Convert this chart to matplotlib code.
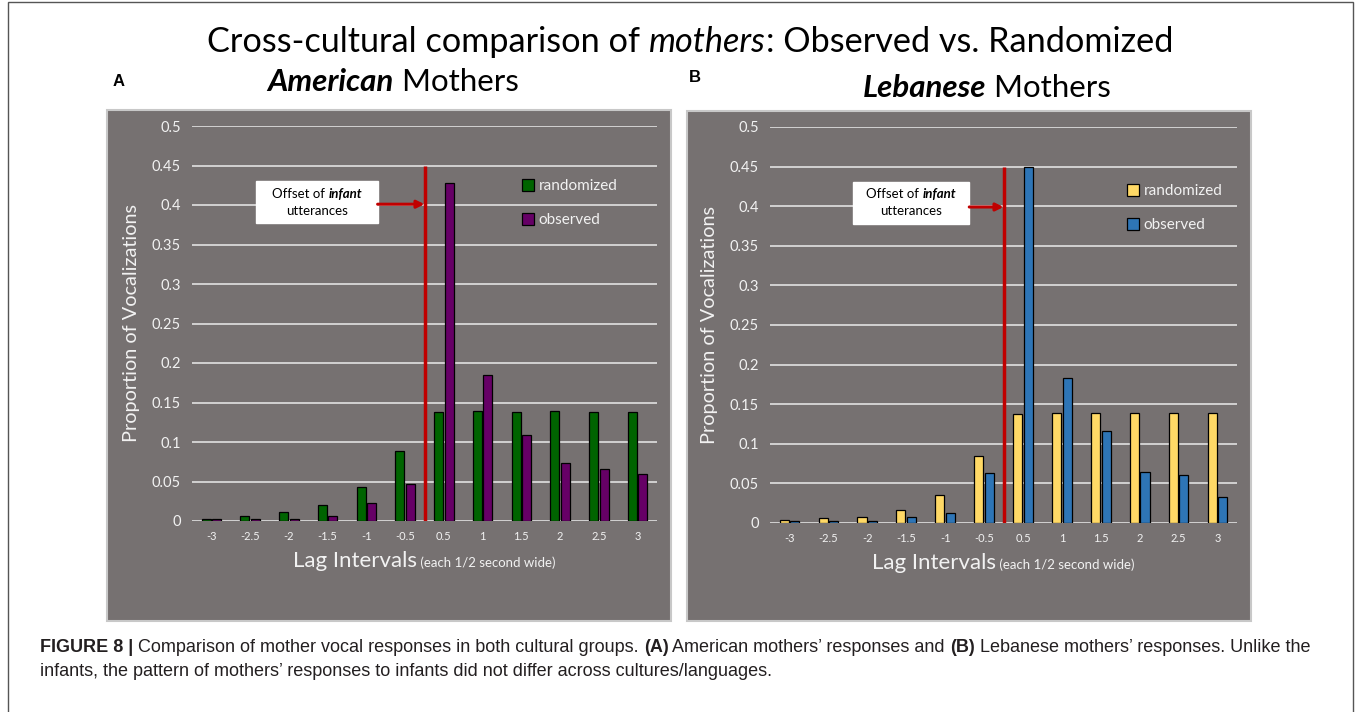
import matplotlib
matplotlib.use("Agg")
import matplotlib.pyplot as plt
from matplotlib.patches import Rectangle
from matplotlib.transforms import offset_copy
from matplotlib import font_manager
import numpy as np

# lag bins (each 1/2 second wide)
lags = ["-3", "-2.5", "-2", "-1.5", "-1", "-0.5", "0.5", "1", "1.5", "2", "2.5", "3"]

# American mothers
us_random = [0.003, 0.006, 0.011, 0.020, 0.043, 0.089, 0.138, 0.139, 0.138, 0.139, 0.138, 0.138]
us_observed = [0.002, 0.003, 0.003, 0.006, 0.023, 0.047, 0.428, 0.185, 0.109, 0.073, 0.066, 0.059]

# Lebanese mothers
leb_random = [0.004, 0.006, 0.008, 0.016, 0.035, 0.084, 0.137, 0.139, 0.139, 0.139, 0.139, 0.139]
leb_observed = [0.003, 0.003, 0.002, 0.007, 0.012, 0.063, 0.449, 0.183, 0.116, 0.065, 0.061, 0.033]

yticks = [0, 0.05, 0.1, 0.15, 0.2, 0.25, 0.3, 0.35, 0.4, 0.45, 0.5]

installed = {f.name for f in font_manager.fontManager.ttflist}
UI = "Lato" if "Lato" in installed else "DejaVu Sans"
NARROW = "Liberation Sans Narrow" if "Liberation Sans Narrow" in installed else "Liberation Sans"

PANEL = "#767171"
GRID = "#D9D9D9"
LIGHT = "#F2F2F2"
RED = "#C00000"

W, H = 1357, 712
fig = plt.figure(figsize=(W / 100, H / 100), dpi=100)
fig.patch.set_facecolor("white")


def px(x0, y0, x1, y1):
    # pixel box (top-left origin) -> figure fraction rect
    return [x0 / W, 1 - y1 / H, (x1 - x0) / W, (y1 - y0) / H]


def runs(x, y, parts, transform, ha="center", va="center", **common):
    # lay out differently styled pieces of text one after another
    r = fig.canvas.get_renderer()
    texts = []
    for s, kw in parts:
        opts = dict(common)
        opts.update(kw)
        texts.append(fig.text(x, y, s, transform=transform, ha="left", va=va, **opts))
    widths = [t.get_window_extent(r).width for t in texts]
    shift = -sum(widths) / 2 if ha == "center" else 0
    for t, w in zip(texts, widths):
        t.set_transform(offset_copy(transform, fig=fig, x=shift, y=0, units="dots"))
        shift += w
    return texts


# outer frame
fig.patches.append(Rectangle((8 / W, -0.02), (1353 - 8) / W, 1.02 - 2 / H,
                             transform=fig.transFigure, fill=False,
                             edgecolor="#555555", lw=1.0, zorder=-2))

# gray chart panels
for box in [(107, 110, 671, 621), (687, 111, 1251, 621)]:
    r = px(*box)
    fig.patches.append(Rectangle((r[0], r[1]), r[2], r[3], transform=fig.transFigure,
                                 facecolor=PANEL, edgecolor="#C8C8C8", lw=1.5, zorder=-1))

panels = [
    dict(rect=px(192, 126, 657, 521), rnd=us_random, obs=us_observed,
         c_rnd="#006400", c_obs="#660066",
         box=(1.16, 0.377, 4.29, 0.430), arrow_y=0.401,
         leg=(0.68, 0.9), xlab_y=-0.117),
    dict(rect=px(770, 127, 1237, 523), rnd=leb_random, obs=leb_observed,
         c_rnd="#FFD966", c_obs="#2E75B6",
         box=(1.62, 0.378, 4.62, 0.431), arrow_y=0.399,
         leg=(0.735, 0.89), xlab_y=-0.117),
]

x = np.arange(len(lags))
bw = 0.232
off = 0.136

for p in panels:
    ax = fig.add_axes(p["rect"])
    ax.set_facecolor("none")
    ax.bar(x - off, p["rnd"], bw, color=p["c_rnd"], edgecolor="black", lw=0.9,
           zorder=3, label="randomized")
    ax.bar(x + off, p["obs"], bw, color=p["c_obs"], edgecolor="black", lw=0.9,
           zorder=3, label="observed")
    ax.set_xlim(-0.5, len(lags) - 0.5)
    ax.set_ylim(0, 0.5)
    ax.set_yticks(yticks)
    ax.set_yticklabels(["0" if v == 0 else f"{v:g}" for v in yticks])
    ax.set_xticks(x)
    ax.set_xticklabels(lags)
    ax.grid(axis="y", color=GRID, lw=1.3, zorder=1)
    ax.set_axisbelow(True)
    for s in ax.spines.values():
        s.set_visible(False)
    ax.tick_params(axis="y", length=0, pad=8, labelsize=10.5, labelcolor=LIGHT)
    ax.tick_params(axis="x", length=0, pad=7, labelsize=8, labelcolor=LIGHT)
    for lab in ax.get_xticklabels() + ax.get_yticklabels():
        lab.set_fontfamily(UI)
    ax.set_ylabel("Proportion of Vocalizations", fontsize=14.3, color=LIGHT, family=UI)
    ax.yaxis.set_label_coords(-0.112, 0.5)

    # infant offset marker
    ax.plot([5.5, 5.5], [0, 0.45], color=RED, lw=2.5, zorder=4, solid_capstyle="butt")
    bx0, by0, bx1, by1 = p["box"]
    ax.add_patch(Rectangle((bx0, by0), bx1 - bx0, by1 - by0, facecolor="white",
                           edgecolor="white", zorder=5))
    ax.annotate("", xy=(5.5, p["arrow_y"]), xytext=(bx1, p["arrow_y"]),
                arrowprops=dict(arrowstyle="-|>", color=RED, lw=2.2,
                                mutation_scale=11, shrinkA=0, shrinkB=0), zorder=5)
    cx = (bx0 + bx1) / 2
    runs(cx, by1 - (by1 - by0) * 0.3, [("Offset of ", {}),
                                       ("infant", dict(style="italic", weight="bold"))],
         ax.transData, family=UI, fontsize=9.5, color="black", zorder=6)
    runs(cx, by0 + (by1 - by0) * 0.3, [("utterances", {})], ax.transData,
         family=UI, fontsize=9.5, color="black", zorder=6)

    leg = ax.legend(loc="upper left", bbox_to_anchor=p["leg"], frameon=False,
                    prop=dict(family=UI, size=11), handlelength=0.8, handleheight=0.8,
                    handletextpad=0.3, labelspacing=1.3)
    for t in leg.get_texts():
        t.set_color(LIGHT)

    runs(0.5, p["xlab_y"], [("Lag Intervals", dict(fontsize=16)),
                            (" (each 1/2 second wide)", dict(fontsize=9.5))],
         ax.transAxes, family=UI, color=LIGHT, va="baseline")

# headings
runs(690 / W, 1 - 42 / H, [("Cross-cultural comparison of ", {}),
                           ("mothers", dict(style="italic")),
                           (": Observed vs. Randomized", {})],
     fig.transFigure, family=UI, fontsize=24.7, color="black")
runs(393 / W, 1 - 82 / H, [("American", dict(style="italic", weight="bold")),
                           (" Mothers", {})],
     fig.transFigure, family=UI, fontsize=22.5, color="black")
runs(987 / W, 1 - 88 / H, [("Lebanese", dict(style="italic", weight="bold")),
                           (" Mothers", {})],
     fig.transFigure, family=UI, fontsize=22.5, color="black")
fig.text(113 / W, 1 - 82 / H, "A", family="Liberation Sans", weight="bold",
         fontsize=12, va="center")
fig.text(689 / W, 1 - 78 / H, "B", family="Liberation Sans", weight="bold",
         fontsize=12, va="center")

# caption
CAP = "#231F20"
runs(40 / W, 1 - 647 / H,
     [("FIGURE 8 | ", dict(weight="bold")),
      ("Comparison of mother vocal responses in both cultural groups. ", {}),
      ("(A)", dict(weight="bold")),
      (" American mothers\u2019 responses and ", {}),
      ("(B)", dict(weight="bold")),
      (" Lebanese mothers\u2019 responses. Unlike the", {})],
     fig.transFigure, ha="left", family=NARROW, fontsize=13, color=CAP)
runs(40 / W, 1 - 671 / H,
     [("infants, the pattern of mothers\u2019 responses to infants did not differ "
       "across cultures/languages.", {})],
     fig.transFigure, ha="left", family=NARROW, fontsize=13, color=CAP)

fig.savefig("out.png", dpi=100, facecolor="white")
